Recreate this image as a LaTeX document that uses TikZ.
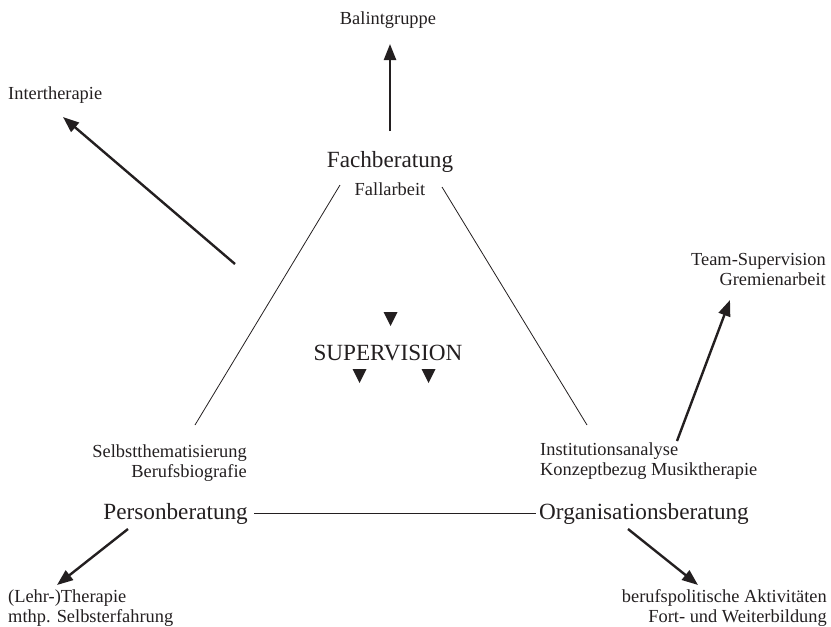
\documentclass[tikz,border=0pt]{standalone}
\usepackage{fontspec}
\setmainfont{Liberation Serif}
\usetikzlibrary{arrows.meta}
\definecolor{ink}{HTML}{231F20}
\begin{document}
\begin{tikzpicture}[x=1pt,y=-1pt,
  big/.style={font=\fontsize{23.2}{25}\selectfont, text=ink, inner sep=0pt, anchor=base},
  small/.style={font=\fontsize{18.4}{20}\selectfont, text=ink, inner sep=0pt},
  thinline/.style={draw=ink, line width=0.8pt},
  thickarrow/.style={draw=ink, line width=2.4pt, -{Triangle[length=16pt,width=12pt]}},
  markertri/.style={fill=ink}
]
\useasboundingbox (0,0) rectangle (831,627);

% labels (base of a two-line node = baseline of its last line)
\node[small, anchor=base] (balint) at (388,24) {Balintgruppe};
\node[big] (fach) at (390,167) {Fachberatung};
\node[small, anchor=base] (fall) at (390,195) {Fallarbeit};
\node[small, anchor=base west] (inter) at (8,99) {Intertherapie};
\node[small, anchor=base east, align=right] (team) at (826,285) {Team-Supervision\\Gremienarbeit};
\node[small, anchor=base east, align=right] (selbst) at (247,477) {Selbstthematisierung\\Berufsbiografie};
\node[small, anchor=base west, align=left] (inst) at (540,475) {Institutionsanalyse\\Konzeptbezug Musiktherapie};
\node[big, anchor=base east] (person) at (248,519) {Personberatung};
\node[big, anchor=base west] (orga) at (539,519) {Organisationsberatung};
\node[small, anchor=base west, align=left] (lehr) at (8,622) {(Lehr-)Therapie\\mthp. Selbsterfahrung};
\node[small, anchor=base east, align=right] (berufs) at (827,622) {berufspolitische Aktivitäten\\Fort- und Weiterbildung};
\node[big, anchor=base] (sup) at (388,360) {SUPERVISION};

% triangle markers
\fill[markertri] (383.5,312) -- (397.5,312) -- (390.5,326) -- cycle;
\fill[markertri] (352.5,369) -- (366.5,369) -- (359.5,383) -- cycle;
\fill[markertri] (421.5,369) -- (435.5,369) -- (428.5,383) -- cycle;

% triangle lines
\coordinate (lt) at (340,185);
\coordinate (lb) at (195,425);
\coordinate (rt) at (442,187);
\coordinate (rb) at (587,425);
\coordinate (bl) at (254,513);
\coordinate (br) at (536,513);
\draw[thinline] (lt) -- (lb);
\draw[thinline] (rt) -- (rb);
\draw[thinline] (bl) -- (br);

% arrows
\coordinate (a1s) at (390,131);
\coordinate (a1e) at (390,44);
\draw[thickarrow] (a1s) -- (a1e);
\coordinate (a2s) at (235,264);
\coordinate (a2e) at (63,117);
\draw[thickarrow] (a2s) -- (a2e);
\coordinate (a3s) at (677,441);
\coordinate (a3e) at (730,300);
\draw[thickarrow] (a3s) -- (a3e);
\coordinate (a4s) at (128,529);
\coordinate (a4e) at (57,585);
\draw[thickarrow] (a4s) -- (a4e);
\coordinate (a5s) at (628,529);
\coordinate (a5e) at (698,585);
\draw[thickarrow] (a5s) -- (a5e);
\end{tikzpicture}
\end{document}
